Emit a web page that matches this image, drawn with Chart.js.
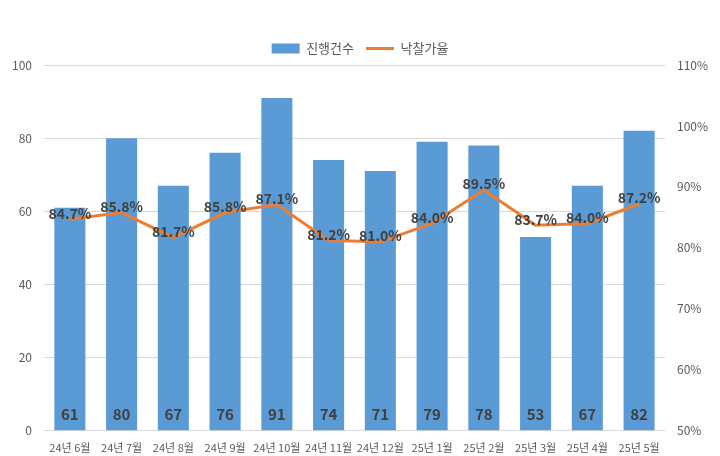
<!DOCTYPE html>
<html>
<head>
<meta charset="utf-8">
<script src="https://cdn.jsdelivr.net/npm/chart.js@4/dist/chart.umd.min.js"></script>
<style>
  html, body { margin: 0; padding: 0; background: #fff; }
  #wrap { width: 720px; height: 456px; }
</style>
</head>
<body>
<div id="wrap"><canvas id="grafico"></canvas></div>
<script>
const meses = ['24년 6월', '24년 7월', '24년 8월', '24년 9월', '24년 10월', '24년 11월', '24년 12월', '25년 1월', '25년 2월', '25년 3월', '25년 4월', '25년 5월'];
const 진행건수 = [61, 80, 67, 76, 91, 74, 71, 79, 78, 53, 67, 82];
const 낙찰가율 = [84.7, 85.8, 81.7, 85.8, 87.1, 81.2, 81.0, 84.0, 89.5, 83.7, 84.0, 87.2];

const fonte = "'Noto Sans CJK KR', 'Noto Sans', sans-serif";

// rótulos de valor desenhados à mão (sem plugin de datalabels)
const rotulos = {
    id: 'rotulos',
    afterDatasetsDraw(chart) {
        const ctx = chart.ctx;
        ctx.save();
        ctx.fillStyle = '#404040';
        ctx.textAlign = 'center';
        ctx.textBaseline = 'middle';
        const barras = chart.getDatasetMeta(0);
        const yZero = chart.scales.y.getPixelForValue(0);
        ctx.font = 'bold 15px ' + fonte;
        barras.data.forEach((el, i) => {
            ctx.fillText(String(진행건수[i]), el.x, yZero - 17);
        });
        const linha = chart.getDatasetMeta(1);
        ctx.font = 'bold 14px ' + fonte;
        linha.data.forEach((el, i) => {
            ctx.fillText(낙찰가율[i].toFixed(1) + '%', el.x, el.y - 6);
        });
        ctx.restore();
    }
};

const ctx = document.getElementById('grafico').getContext('2d');
new Chart(ctx, {
    data: {
        labels: meses,
        datasets: [{
            type: 'bar',
            label: '진행건수',
            data: 진행건수,
            backgroundColor: '#5b9bd5',
            categoryPercentage: 0.6,
            barPercentage: 1,
            yAxisID: 'y',
            order: 2,
            pointStyle: 'rect'
        }, {
            type: 'line',
            label: '낙찰가율',
            data: 낙찰가율,
            borderColor: '#ed7d31',
            backgroundColor: '#ed7d31',
            borderWidth: 3,
            pointRadius: 0,
            tension: 0,
            yAxisID: 'y2',
            order: 1,
            pointStyle: 'line'
        }]
    },
    options: {
        responsive: true,
        maintainAspectRatio: false,
        animation: false,
        layout: { padding: { top: 30, right: 0, left: 0, bottom: 0 } },
        plugins: {
            tooltip: { enabled: false },
            legend: {
                position: 'top',
                labels: {
                    usePointStyle: true,
                    pointStyleWidth: 28,
                    boxHeight: 10,
                    color: '#595959',
                    font: { family: fonte, size: 13 },
                    padding: 12,
                    sort: (a, b) => a.datasetIndex - b.datasetIndex
                }
            }
        },
        scales: {
            x: {
                grid: { display: false },
                border: { display: false },
                ticks: { color: '#595959', font: { family: fonte, size: 11 }, maxRotation: 0, autoSkip: false, padding: 2 }
            },
            y: {
                position: 'left',
                min: 0, max: 100,
                ticks: { stepSize: 20, color: '#595959', font: { family: fonte, size: 12 }, padding: 12 },
                grid: { color: '#d9d9d9', drawTicks: false },
                border: { display: false }
            },
            y2: {
                position: 'right',
                min: 50, max: 110,
                ticks: { stepSize: 10, color: '#595959', font: { family: fonte, size: 12 }, padding: 12,
                    callback: v => v + '%' },
                grid: { display: false, drawTicks: false },
                border: { display: false }
            }
        }
    },
    plugins: [rotulos]
});
</script>
</body>
</html>
